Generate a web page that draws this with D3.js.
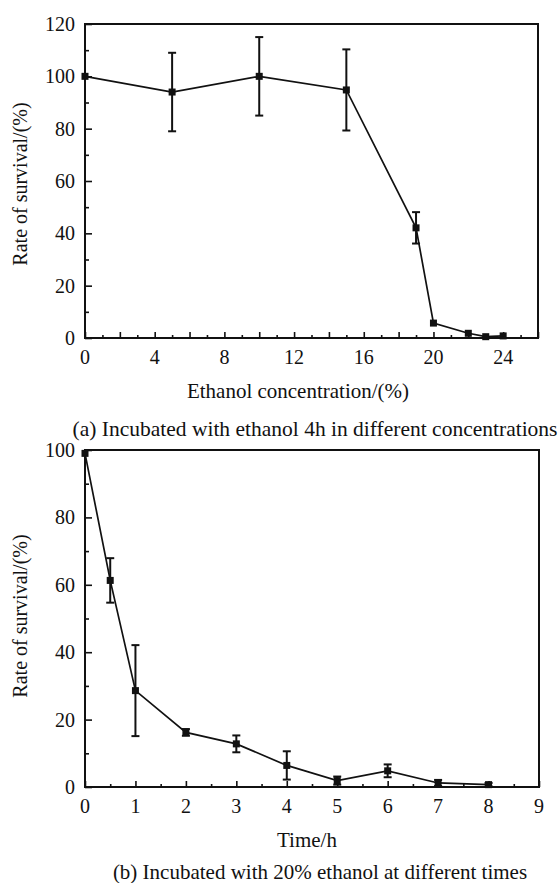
<!DOCTYPE html>
<html>
<head>
<meta charset="utf-8">
<script src="https://cdn.jsdelivr.net/npm/d3@7"></script>
<style>
  html, body { margin: 0; padding: 0; background: #fff; }
  svg { display: block; }
</style>
</head>
<body>
<svg id="chart" width="558" height="883"></svg>
<script>
// Panel (a): survival after 4 h at different ethanol concentrations
const concentration = [0, 5, 10, 15, 19, 20, 22, 23, 24];
const survivalA = [100, 94, 100, 94.8, 42.1, 5.7, 1.8, 0.5, 0.8];
const errorA = [0, 15, 15, 15.5, 6, 0, 0, 0, 0];
const xTicksA = [0, 4, 8, 12, 16, 20, 24];
const yTicksA = [0, 20, 40, 60, 80, 100, 120];

// Panel (b): survival in 20% ethanol over time
const timeH = [0, 0.5, 1, 2, 3, 4, 5, 6, 7, 8];
const survivalB = [99, 61.3, 28.6, 16.2, 12.8, 6.4, 1.9, 4.8, 1.2, 0.7];
const errorB = [0, 6.6, 13.5, 1, 2.5, 4.2, 1.2, 1.9, 0.9, 0.5];
const xTicksB = [0, 1, 2, 3, 4, 5, 6, 7, 8, 9];
const yTicksB = [0, 20, 40, 60, 80, 100];

const svg = d3.select("#chart");
const ink = "#111";
const FONT = "Liberation Serif";

function label(g, x, y, str, size, anchor) {
  return g.append("text").attr("x", x).attr("y", y)
    .attr("font-family", FONT).attr("font-size", size)
    .attr("fill", ink).attr("text-anchor", anchor || "middle").text(str);
}

function panel(cfg) {
  const g = svg.append("g");
  const x = d3.scaleLinear().domain(cfg.xDomain).range([cfg.left, cfg.right]);
  const y = d3.scaleLinear().domain(cfg.yDomain).range([cfg.bottom, cfg.top]);

  const tickStyle = s => {
    s.select(".domain").remove();
    s.selectAll("line").attr("stroke", ink).attr("stroke-width", 1.6);
  };

  // minor ticks (inward, unlabeled)
  g.append("g").attr("transform", `translate(0,${cfg.bottom})`)
    .call(d3.axisBottom(x).tickValues(cfg.xMinor).tickSizeInner(-3).tickSizeOuter(0).tickFormat(""))
    .call(tickStyle);
  g.append("g").attr("transform", `translate(${cfg.left},0)`)
    .call(d3.axisLeft(y).tickValues(cfg.yMinor).tickSizeInner(-4).tickSizeOuter(0).tickFormat(""))
    .call(tickStyle);

  // major ticks
  g.append("g").attr("transform", `translate(0,${cfg.bottom})`)
    .call(d3.axisBottom(x).tickValues(cfg.xMajor).tickSizeInner(-6).tickSizeOuter(0).tickFormat(""))
    .call(tickStyle);
  g.append("g").attr("transform", `translate(${cfg.left},0)`)
    .call(d3.axisLeft(y).tickValues(cfg.yTicks).tickSizeInner(-7).tickSizeOuter(0).tickFormat(""))
    .call(tickStyle);

  // tick labels
  cfg.xTicks.forEach(d => label(g, x(d), cfg.bottom + 26, d, 20));
  cfg.yTicks.forEach(d => label(g, cfg.left - 10, y(d) + 7, d, 20, "end"));

  // frame
  g.append("rect")
    .attr("x", cfg.left).attr("y", cfg.top)
    .attr("width", cfg.right - cfg.left).attr("height", cfg.bottom - cfg.top)
    .attr("fill", "none").attr("stroke", ink).attr("stroke-width", 2);

  // connecting line
  const line = d3.line().x(d => x(d[0])).y(d => y(d[1]));
  const pts = cfg.xs.map((v, i) => [v, cfg.ys[i]]);
  g.append("path").datum(pts).attr("d", line)
    .attr("fill", "none").attr("stroke", ink).attr("stroke-width", 1.7);

  // error bars
  const eb = g.selectAll(".eb")
    .data(pts.map((p, i) => ({x: p[0], y: p[1], e: cfg.err[i]})).filter(d => d.e > 0))
    .enter().append("g").attr("stroke", ink).attr("stroke-width", 2);
  eb.append("line").attr("x1", d => x(d.x)).attr("x2", d => x(d.x))
    .attr("y1", d => y(d.y + d.e)).attr("y2", d => y(d.y - d.e));
  eb.append("line").attr("x1", d => x(d.x) - 4).attr("x2", d => x(d.x) + 4)
    .attr("y1", d => y(d.y + d.e)).attr("y2", d => y(d.y + d.e));
  eb.append("line").attr("x1", d => x(d.x) - 4).attr("x2", d => x(d.x) + 4)
    .attr("y1", d => y(d.y - d.e)).attr("y2", d => y(d.y - d.e));

  // square markers
  const m = 7;
  g.selectAll(".pt").data(pts).enter().append("rect")
    .attr("x", d => x(d[0]) - m / 2).attr("y", d => y(d[1]) - m / 2)
    .attr("width", m).attr("height", m).attr("fill", ink);

  // axis titles and caption
  label(g, 0, 0, "Rate of survival/(%)", 20)
    .attr("transform", `translate(${cfg.yTitleX},${cfg.yTitleY}) rotate(-90)`);
  label(g, cfg.xTitleX, cfg.xTitleY, cfg.xTitle, 21);
  label(g, cfg.capX, cfg.capY, cfg.caption, cfg.capSize);
}

panel({
  left: 85, right: 538, top: 24, bottom: 338,
  xDomain: [0, 26], yDomain: [0, 120],
  xTicks: xTicksA, xMajor: d3.range(0, 27, 2), xMinor: d3.range(1, 26, 2),
  yTicks: yTicksA, yMinor: d3.range(10, 120, 20),
  xs: concentration, ys: survivalA, err: errorA,
  yTitleX: 27, yTitleY: 184,
  xTitle: "Ethanol concentration/(%)", xTitleX: 298, xTitleY: 398,
  caption: "(a) Incubated with ethanol 4h in different concentrations", capX: 315, capY: 436, capSize: 21.5
});

panel({
  left: 85, right: 539, top: 450, bottom: 787,
  xDomain: [0, 9], yDomain: [0, 100],
  xTicks: xTicksB, xMajor: d3.range(0, 10, 1), xMinor: d3.range(0.5, 9, 1),
  yTicks: yTicksB, yMinor: d3.range(10, 100, 20),
  xs: timeH, ys: survivalB, err: errorB,
  yTitleX: 27, yTitleY: 616,
  xTitle: "Time/h", xTitleX: 307, xTitleY: 847,
  caption: "(b) Incubated with 20% ethanol at different times", capX: 320, capY: 879, capSize: 21
});
</script>
</body>
</html>
